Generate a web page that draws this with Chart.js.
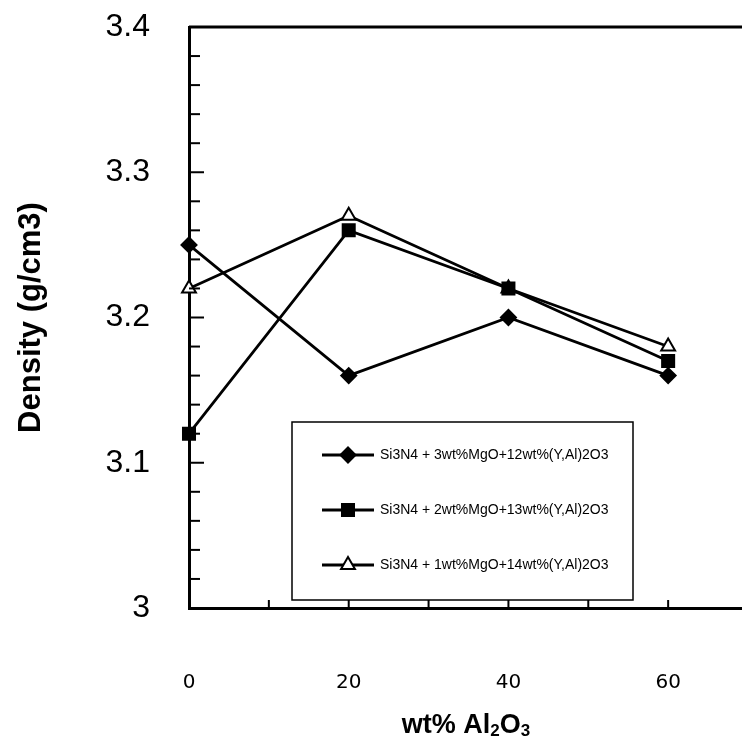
<!DOCTYPE html>
<html>
<head>
<meta charset="utf-8">
<script src="https://cdn.jsdelivr.net/npm/chart.js@4.4.0/dist/chart.umd.min.js"></script>
<style>
  html, body { margin: 0; padding: 0; background: #fff; overflow: hidden; }
</style>
</head>
<body>
<canvas id="density-chart" width="760" height="741"></canvas>
<script>
// data
const alumina = [0, 20, 40, 60];
const density3MgO = [3.25, 3.16, 3.20, 3.16];
const density2MgO = [3.12, 3.26, 3.22, 3.17];
const density1MgO = [3.22, 3.27, 3.22, 3.18];
const seriesLabels = [
  "Si3N4 + 3wt%MgO+12wt%(Y,Al)2O3",
  "Si3N4 + 2wt%MgO+13wt%(Y,Al)2O3",
  "Si3N4 + 1wt%MgO+14wt%(Y,Al)2O3",
];
const xTickLabels = [0, 20, 40, 60];
const yTickLabels = [3, 3.1, 3.2, 3.3, 3.4];

const toPoints = (ys) => alumina.map((x, i) => ({ x: x, y: ys[i] }));

const markers = [
  { pointStyle: "rectRot", radius: 7.5, fill: "#000" },
  { pointStyle: "rect", radius: 8.5, fill: "#000" },
  { pointStyle: "triangle", radius: 8, fill: "#fff" },
];

const datasets = [density3MgO, density2MgO, density1MgO].map((ys, i) => ({
  label: seriesLabels[i],
  data: toPoints(ys),
  borderColor: "#000",
  backgroundColor: markers[i].fill,
  pointBackgroundColor: markers[i].fill,
  pointBorderColor: "#000",
  pointBorderWidth: 2,
  pointStyle: markers[i].pointStyle,
  pointRadius: markers[i].radius,
  borderWidth: 2.8,
  tension: 0,
  fill: false,
  clip: false,
}));

// box frame, inward ticks, legend box and x title with subscripts
const framePlugin = {
  id: "frame",
  afterDraw(chart) {
    const ctx = chart.ctx;
    const a = chart.chartArea;
    const xs = chart.scales.x;
    const ys = chart.scales.y;
    ctx.save();
    ctx.strokeStyle = "#000";
    ctx.lineWidth = 3;
    ctx.beginPath();
    ctx.moveTo(a.left, a.top);
    ctx.lineTo(a.right, a.top);
    ctx.lineTo(a.right, a.bottom);
    ctx.stroke();

    ctx.lineWidth = 2;
    ys.ticks.forEach((t) => {
      const y = ys.getPixelForValue(t.value);
      const major = t.label !== "";
      ctx.beginPath();
      ctx.moveTo(a.left, y);
      ctx.lineTo(a.left + (major ? 15 : 11), y);
      ctx.stroke();
    });
    xs.ticks.forEach((t) => {
      const x = xs.getPixelForValue(t.value);
      ctx.beginPath();
      ctx.moveTo(x, a.bottom);
      ctx.lineTo(x, a.bottom - 8);
      ctx.stroke();
    });

    // legend
    const bx = a.left + 103, by = a.bottom - 186, bw = 341, bh = 178;
    ctx.lineWidth = 1.5;
    ctx.strokeRect(bx, by, bw, bh);
    ctx.font = "14px 'Liberation Sans', Arial, sans-serif";
    ctx.textBaseline = "middle";
    ctx.fillStyle = "#000";
    chart.data.datasets.forEach((ds, i) => {
      const y = by + 33 + i * 55;
      ctx.lineWidth = 2.8;
      ctx.strokeStyle = "#000";
      ctx.beginPath();
      ctx.moveTo(bx + 30, y);
      ctx.lineTo(bx + 82, y);
      ctx.stroke();
      ctx.fillStyle = ds.pointBackgroundColor;
      ctx.lineWidth = 2;
      Chart.helpers.drawPoint(ctx, {
        pointStyle: ds.pointStyle,
        radius: ds.pointRadius,
        rotation: 0,
        borderWidth: 2,
      }, bx + 56, y);
      ctx.fillStyle = "#000";
      ctx.fillText(ds.label, bx + 88, y);
    });

    // x axis title: wt% Al2O3
    const big = "bold 27px 'Liberation Sans', Arial, sans-serif";
    const small = "bold 17px 'Liberation Sans', Arial, sans-serif";
    const parts = [
      { t: "wt% Al", f: big, dy: 0 },
      { t: "2", f: small, dy: 3 },
      { t: "O", f: big, dy: 0 },
      { t: "3", f: small, dy: 3 },
    ];
    let total = 0;
    parts.forEach((p) => { ctx.font = p.f; p.w = ctx.measureText(p.t).width; total += p.w; });
    let x = a.left + 277 - total / 2;
    const base = a.bottom + 125;
    ctx.textBaseline = "alphabetic";
    ctx.textAlign = "left";
    parts.forEach((p) => {
      ctx.font = p.f;
      ctx.fillText(p.t, x, base + p.dy);
      x += p.w;
    });
    ctx.restore();
  },
};

const config = {
  type: "line",
  data: { datasets: datasets },
  options: {
    responsive: false,
    animation: false,
    layout: { padding: { top: 27, right: 12, left: 0, bottom: 0 } },
    scales: {
      x: {
        type: "linear",
        min: 0,
        max: 70,
        grid: { display: false, drawTicks: false },
        border: { display: true, color: "#000", width: 3 },
        ticks: {
          stepSize: 10,
          autoSkip: false,
          maxRotation: 0,
          padding: 63,
          color: "#000",
          font: { family: "'DejaVu Sans', sans-serif", size: 20 },
          callback: (v) => (xTickLabels.includes(v) ? String(v) : ""),
        },
        afterFit: (s) => {
          s.height = 133;
          s.paddingLeft = 0;
          s.paddingRight = 0;
        },
      },
      y: {
        min: 3,
        max: 3.4,
        grid: { display: false, drawTicks: false },
        border: { display: true, color: "#000", width: 3 },
        ticks: {
          stepSize: 0.02,
          autoSkip: false,
          padding: 39,
          color: "#000",
          font: { family: "'Liberation Sans', Arial, sans-serif", size: 32 },
          callback: (v) => {
            const r = Math.round(v * 10) / 10;
            return Math.abs(v - r) < 1e-6 && yTickLabels.includes(r) ? String(r) : "";
          },
        },
        title: {
          display: true,
          text: "Density (g/cm3)",
          color: "#000",
          font: { family: "'Liberation Sans', Arial, sans-serif", size: 31, weight: "bold" },
          padding: { top: 13, bottom: 0 },
        },
        afterFit: (s) => {
          s.width = 189;
          s.paddingTop = 0;
          s.paddingBottom = 0;
        },
      },
    },
    plugins: {
      legend: { display: false },
      tooltip: { enabled: false },
    },
  },
  plugins: [framePlugin],
};

new Chart(document.getElementById("density-chart").getContext("2d"), config);
</script>
</body>
</html>
